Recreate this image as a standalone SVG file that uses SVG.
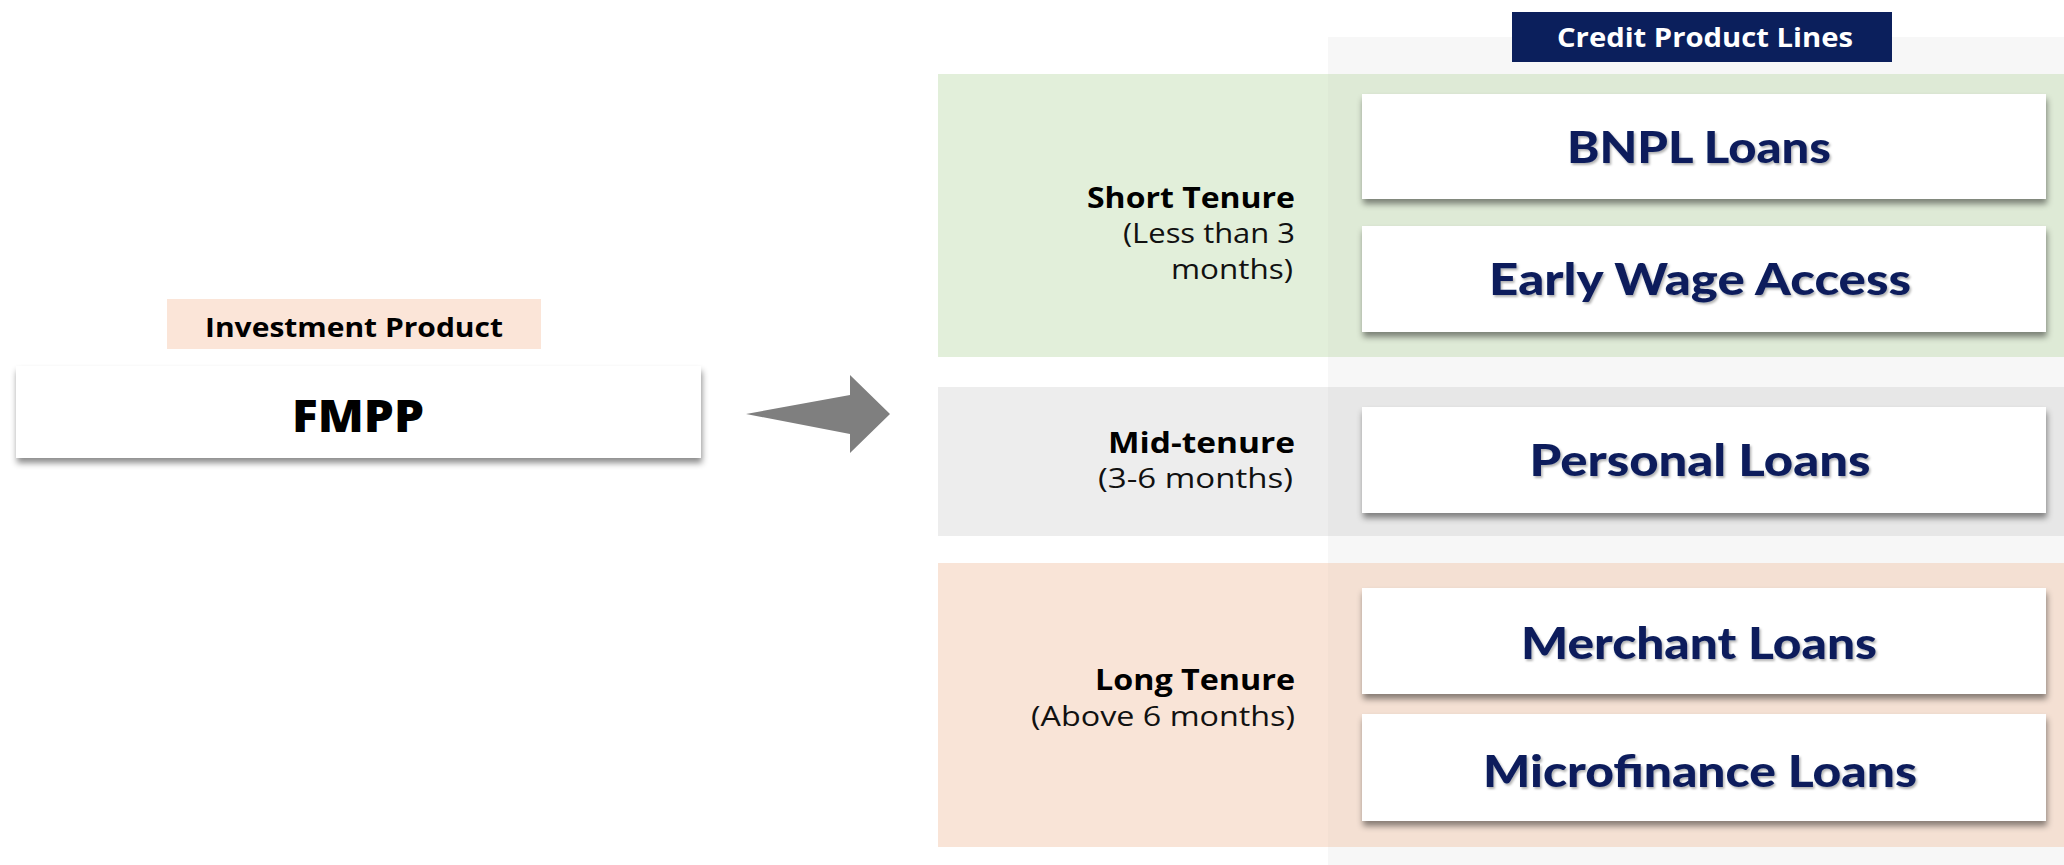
<svg xmlns="http://www.w3.org/2000/svg" width="2064" height="865" viewBox="0 0 2064 865">
  <defs>
    <filter id="boxShadow" x="-5%" y="-20%" width="110%" height="150%">
      <feDropShadow dx="1" dy="5" stdDeviation="3" flood-color="#000" flood-opacity="0.45"/>
    </filter>
    <filter id="textShadow" x="-5%" y="-20%" width="110%" height="150%">
      <feDropShadow dx="1.5" dy="2" stdDeviation="1" flood-color="#000" flood-opacity="0.3"/>
    </filter>
    <style>
      .card { fill: #ffffff; filter: url(#boxShadow); }
      .product { font-family: Lato, "Open Sans", sans-serif; font-weight: 900; font-size: 44px; fill: #0b1f5c; text-anchor: middle; filter: url(#textShadow); }
      .tier { font-family: "Open Sans", Lato, sans-serif; font-weight: 700; font-size: 28px; fill: #000; text-anchor: end; }
      .tierSub { font-family: "Open Sans", Lato, sans-serif; font-weight: 400; font-size: 28px; fill: #111; text-anchor: end; }
      .tag { font-family: "Open Sans", Lato, sans-serif; font-weight: 700; font-size: 27px; text-anchor: middle; }
    </style>
  </defs>

  <rect x="0" y="0" width="2064" height="865" fill="#ffffff"/>

  <!-- credit product column backdrop -->
  <rect x="1328" y="37" width="736" height="828" fill="#f7f7f7"/>

  <!-- tenure bands -->
  <g id="band-short">
    <rect x="938" y="74" width="1126" height="283" fill="#e2efda"/>
    <rect x="1328" y="74" width="736" height="283" fill="#deead6"/>
    <text class="tier" x="1295" y="208" textLength="208" lengthAdjust="spacingAndGlyphs">Short Tenure</text>
    <text class="tierSub" x="1295" y="243" textLength="172" lengthAdjust="spacingAndGlyphs">(Less than 3</text>
    <text class="tierSub" x="1293" y="279" textLength="122" lengthAdjust="spacingAndGlyphs">months)</text>
  </g>
  <g id="band-mid">
    <rect x="938" y="387" width="1126" height="149" fill="#ededed"/>
    <rect x="1328" y="387" width="736" height="149" fill="#e7e7e7"/>
    <text class="tier" x="1295" y="453" textLength="187" lengthAdjust="spacingAndGlyphs">Mid-tenure</text>
    <text class="tierSub" x="1293" y="488" textLength="195" lengthAdjust="spacingAndGlyphs">(3-6 months)</text>
  </g>
  <g id="band-long">
    <rect x="938" y="563" width="1126" height="284" fill="#f9e4d7"/>
    <rect x="1328" y="563" width="736" height="284" fill="#f4e0d3"/>
    <text class="tier" x="1295" y="690" textLength="200" lengthAdjust="spacingAndGlyphs">Long Tenure</text>
    <text class="tierSub" x="1295" y="726" textLength="264" lengthAdjust="spacingAndGlyphs">(Above 6 months)</text>
  </g>

  <!-- column header -->
  <g id="header-credit">
    <rect x="1512" y="12" width="380" height="50" fill="#0b1f5c"/>
    <text class="tag" x="1705" y="47" fill="#ffffff" textLength="296" lengthAdjust="spacingAndGlyphs">Credit Product Lines</text>
  </g>

  <!-- investment side -->
  <g id="header-investment">
    <rect x="167" y="299" width="374" height="50" fill="#fbe5d8"/>
    <text class="tag" x="354" y="337" fill="#000000" textLength="298" lengthAdjust="spacingAndGlyphs">Investment Product</text>
  </g>
  <g id="node-fmpp">
    <rect class="card" x="16" y="366" width="685" height="92"/>
    <text x="358" y="432" font-family="'Open Sans', Lato, sans-serif" font-weight="800" font-size="44" fill="#000" text-anchor="middle" textLength="132" lengthAdjust="spacingAndGlyphs">FMPP</text>
  </g>

  <!-- credit products -->
  <g id="node-bnpl">
    <rect class="card" x="1362" y="94" width="684" height="105"/>
    <text class="product" x="1699" y="163" textLength="264" lengthAdjust="spacingAndGlyphs">BNPL Loans</text>
  </g>
  <g id="node-ewa">
    <rect class="card" x="1362" y="226" width="684" height="106"/>
    <text class="product" x="1700" y="295" textLength="422" lengthAdjust="spacingAndGlyphs">Early Wage Access</text>
  </g>
  <g id="node-personal">
    <rect class="card" x="1362" y="407" width="684" height="106"/>
    <text class="product" x="1700" y="476" textLength="341" lengthAdjust="spacingAndGlyphs">Personal Loans</text>
  </g>
  <g id="node-merchant">
    <rect class="card" x="1362" y="588" width="684" height="106"/>
    <text class="product" x="1699" y="659" textLength="356" lengthAdjust="spacingAndGlyphs">Merchant Loans</text>
  </g>
  <g id="node-microfinance">
    <rect class="card" x="1362" y="714" width="684" height="107"/>
    <text class="product" x="1700" y="787" textLength="434" lengthAdjust="spacingAndGlyphs">Microfinance Loans</text>
  </g>

  <!-- connector -->
  <g id="connectors">
    <polygon points="746,414 850,395 850,375 890,414 850,453 850,434" fill="#7f7f7f"/>
  </g>
</svg>
